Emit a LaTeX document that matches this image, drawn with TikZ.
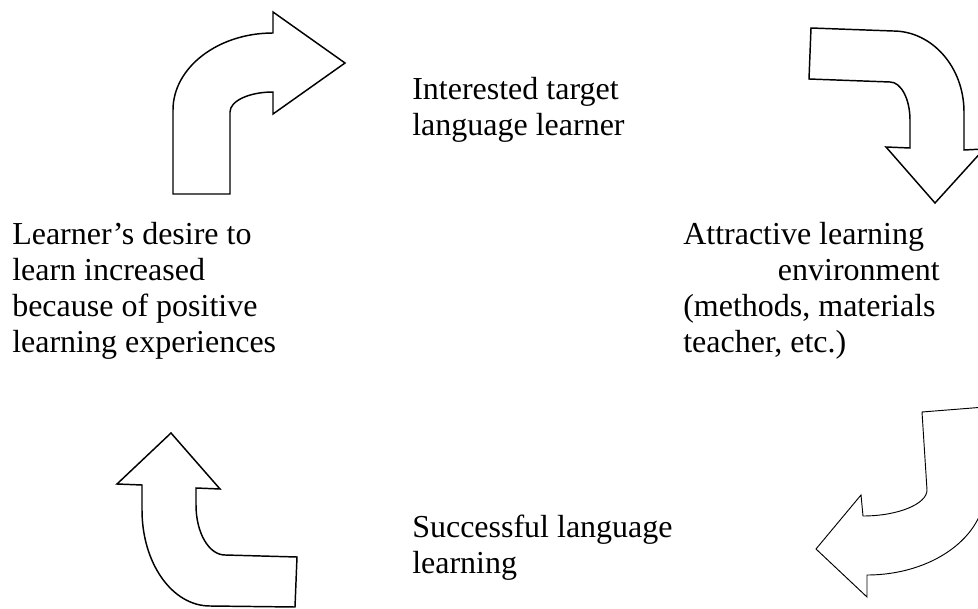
\documentclass[tikz,border=0pt]{standalone}
\usepackage{fontspec}
\setmainfont{Liberation Serif}
\begin{document}
\begin{tikzpicture}[x=0.75pt,y=-0.75pt,
  arrowshape/.style={draw=black,line width=1.1pt,line join=miter,fill=white},
  thinshape/.style={draw=black,line width=0.7pt,line join=miter,fill=white},
  label/.style={anchor=base west,inner sep=0pt,align=left,font=\fontsize{24}{27}\selectfont}]
\useasboundingbox (0,0) rectangle (978,609);
% arrow top-left (up then right)
\draw[arrowshape] (173,194) -- (230,194) -- (230,112)
  .. controls (230,101) and (249,92) .. (273,92) -- (273,114) -- (345,63)
  -- (273,12) -- (273,33) .. controls (218,33) and (173,67.5) .. (173,110) -- cycle;
% arrow top-right (right then down)
\draw[arrowshape] (811,28) -- (893,31) .. controls (932,31) and (964,67) .. (964,112)
  -- (964,150) -- (984,149) -- (935,203) -- (886,147) -- (910,148) -- (910,120)
  .. controls (910,99) and (901,82) .. (890,82) -- (809,79) -- cycle;
% arrow bottom-right (down then left)
\draw[thinshape] (922,412) -- (985,407) -- (985,490)
  .. controls (985,537) and (932,575) .. (867,575) -- (867,597) -- (816,549)
  -- (861,495) -- (863,516) .. controls (898,516) and (927,504) .. (927,490) -- cycle;
% arrow bottom-left (left then up)
\draw[arrowshape] (171,433) -- (220,489) -- (196,488) -- (196,505)
  .. controls (196,533) and (209,555) .. (225,555) -- (297,557) -- (295,607)
  -- (210,606) .. controls (172,606) and (142,563) .. (142,510) -- (142,485)
  -- (117,484) -- cycle;
% texts (anchored at the baseline of the last line)
\node[label] (top) at (412,136) {Interested target\\language learner};
\node[label] (left) at (12,353) {Learner’s desire to\\learn increased\\because of positive\\learning experiences};
\node[label] (right) at (683,353) {Attractive learning\\\hspace*{71pt}environment\\(methods, materials\\teacher, etc.)};
\node[label] (bottom) at (412,573) {Successful language\\learning};
\end{tikzpicture}
\end{document}
